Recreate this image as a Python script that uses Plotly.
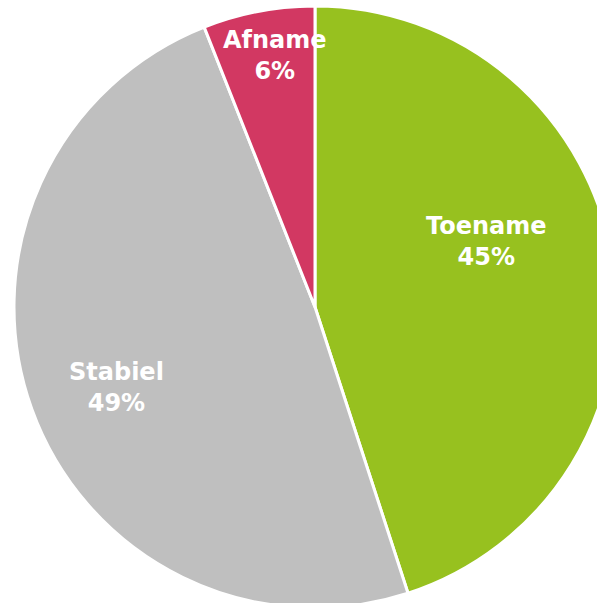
import math
import plotly.graph_objects as go

labels = ["Toename", "Stabiel", "Afname"]
values = [45, 49, 6]
colors = ["#97C11F", "#BFBFBF", "#D23862"]

# label placement inside each slice: (angle clockwise from 12 o'clock in degrees, radius fraction)
label_angle = [69.2, 247.8, 350.9]
label_radius = [0.611, 0.711, 0.845]

fig = go.Figure(go.Pie(
    labels=labels,
    values=values,
    sort=False,
    direction="clockwise",
    rotation=0,
    marker=dict(colors=colors, line=dict(color="white", width=3)),
    textinfo="none",
    hoverinfo="label+percent",
))

total = sum(values)
annotations = []
for lab, val, ang, rad in zip(labels, values, label_angle, label_radius):
    a = math.radians(ang)
    annotations.append(dict(
        x=0.5 + rad * math.sin(a) / 2,
        y=0.5 + rad * math.cos(a) / 2,
        xref="paper", yref="paper",
        xanchor="center", yanchor="middle",
        text=f"{lab}<br>{round(val / total * 100)}%",
        showarrow=False,
        align="center",
        font=dict(family="DejaVu Sans", size=24, color="white", weight="bold"),
    ))

fig.update_layout(
    width=616,
    height=608,
    margin=dict(l=14, r=0, t=6, b=0),
    showlegend=False,
    paper_bgcolor="white",
    annotations=annotations,
)

fig.write_html(
    "out.html",
    config={"displayModeBar": False},
    post_script="document.body.style.margin='0';document.body.style.overflow='hidden';document.documentElement.style.overflow='hidden';",
)
